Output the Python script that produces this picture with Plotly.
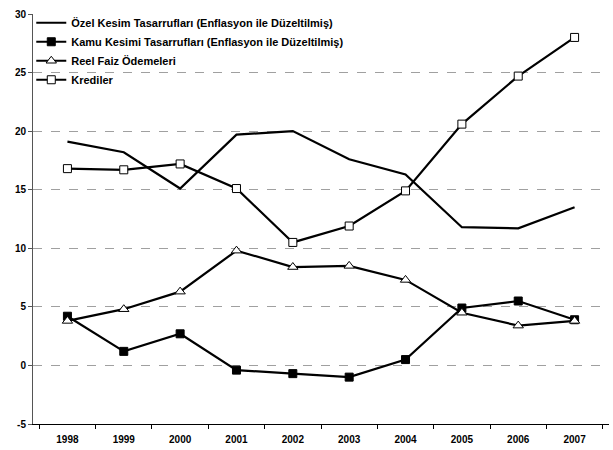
import plotly.graph_objects as go

years = ["1998", "1999", "2000", "2001", "2002", "2003", "2004", "2005", "2006", "2007"]

ozel_tasarruf = [19.1, 18.2, 15.1, 19.7, 20.0, 17.6, 16.3, 11.8, 11.7, 13.5]
kamu_tasarruf = [4.2, 1.2, 2.7, -0.4, -0.7, -1.0, 0.5, 4.9, 5.5, 3.9]
reel_faiz = [3.8, 4.8, 6.3, 9.8, 8.4, 8.5, 7.3, 4.5, 3.4, 3.8]
krediler = [16.8, 16.7, 17.2, 15.1, 10.5, 11.9, 14.9, 20.6, 24.7, 28.0]

y_ticks = [-5, 0, 5, 10, 15, 20, 25, 30]
y_tick_labels = ["-5", "0", "5", "10", "15", "20", "25", "30"]

FONT = "Liberation Sans, Arial, sans-serif"

fig = go.Figure()

fig.add_trace(go.Scatter(
    x=years, y=ozel_tasarruf, mode="lines",
    name="Özel Kesim Tasarrufları (Enflasyon ile Düzeltilmiş)",
    line=dict(color="black", width=2.2),
))
fig.add_trace(go.Scatter(
    x=years, y=kamu_tasarruf, mode="lines+markers",
    name="Kamu Kesimi Tasarrufları (Enflasyon ile Düzeltilmiş)",
    line=dict(color="black", width=2.2),
    marker=dict(symbol="square", size=8, color="black",
                line=dict(color="black", width=1)),
))
fig.add_trace(go.Scatter(
    x=years, y=reel_faiz, mode="lines+markers",
    name="Reel Faiz Ödemeleri",
    line=dict(color="black", width=2.2),
    marker=dict(symbol="triangle-up", size=9, color="white",
                line=dict(color="black", width=1)),
))
fig.add_trace(go.Scatter(
    x=years, y=krediler, mode="lines+markers",
    name="Krediler",
    line=dict(color="black", width=2.2),
    marker=dict(symbol="square", size=8, color="white",
                line=dict(color="black", width=1)),
))

fig.update_layout(
    width=613, height=450,
    margin=dict(l=33, r=4, t=14, b=26),
    paper_bgcolor="white", plot_bgcolor="white",
    font=dict(family=FONT, size=10, color="black", weight="bold"),
    legend=dict(
        x=-0.003, y=1.014, xanchor="left", yanchor="top",
        bgcolor="rgba(0,0,0,0)", borderwidth=0,
        font=dict(family=FONT, size=11, color="black", weight="bold"),
        itemwidth=30, tracegroupgap=0,
    ),
    showlegend=True,
)

fig.update_xaxes(
    type="category", tickson="boundaries",
    ticks="outside", ticklen=4, tickcolor="black", tickwidth=1,
    showline=True, linecolor="black", linewidth=1,
    showgrid=False, zeroline=False,
    ticklabelstandoff=6,
    tickfont=dict(family=FONT, size=10, color="black", weight="bold"),
)

fig.update_yaxes(
    range=[-5, 30], tickvals=y_ticks, ticktext=y_tick_labels,
    ticks="outside", ticklen=4, tickcolor="#555555", tickwidth=1,
    showline=True, linecolor="#555555", linewidth=1,
    showgrid=True, gridcolor="#a0a0a0", griddash="dash", gridwidth=1,
    zeroline=False,
    tickfont=dict(family=FONT, size=10, color="black", weight="bold"),
)

fig.write_html("out.html")
